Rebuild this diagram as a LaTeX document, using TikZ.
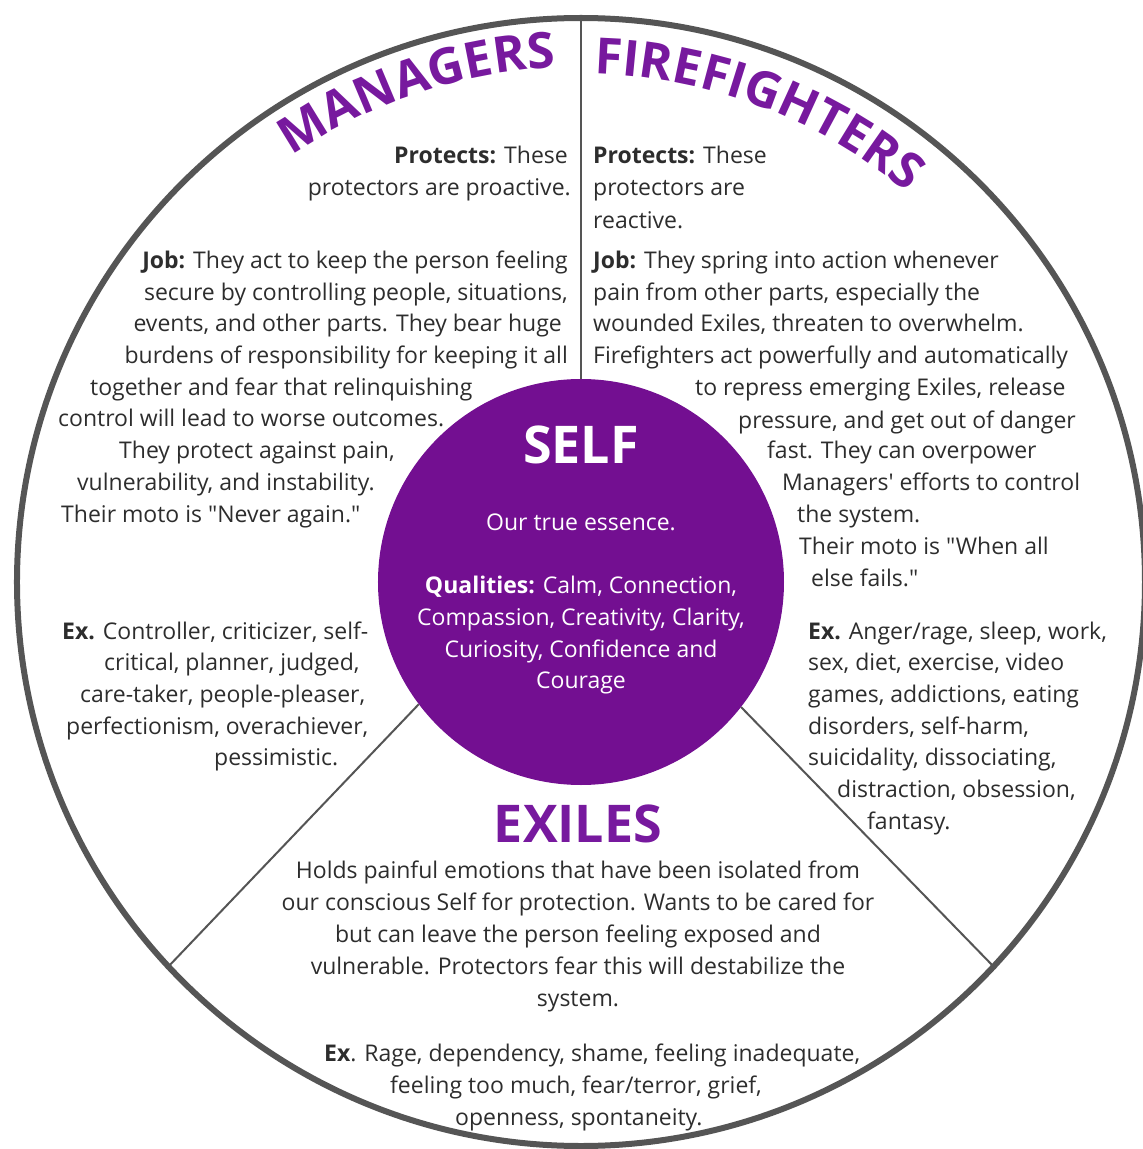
\documentclass[tikz,border=0pt]{standalone}
\usepackage{fontspec}
\setmainfont{Open Sans}[Ligatures=TeXOff]
\usetikzlibrary{decorations.text}

\definecolor{selfpurple}{RGB}{115,15,145}
\definecolor{titlepurple}{RGB}{119,25,158}
\definecolor{rimgray}{RGB}{85,85,85}
\definecolor{inktext}{RGB}{45,45,45}

\tikzset{
  rim/.style={circle, draw=rimgray, line width=6pt, minimum size=1128pt, inner sep=0pt},
  core/.style={circle, fill=selfpurple, minimum size=406pt, inner sep=0pt},
  divider/.style={draw=rimgray, line width=2pt},
  body/.style={inner sep=0pt, text=inktext, font=\fontsize{23}{31}\selectfont},
  bodyL/.style={body, anchor=mid west},
  bodyR/.style={body, anchor=mid east},
  bodyC/.style={body, anchor=mid},
  selftext/.style={body, text=white, anchor=mid},
  heading/.style={inner sep=0pt, anchor=base, font=\fontsize{52}{60}\selectfont\bfseries},
}

\begin{document}
\begin{tikzpicture}[x=1pt, y=1pt]
        \useasboundingbox (-581,-567) rectangle (562,582);

        % the two circles
        \node[rim]  (rim)  at (0,0) {};
        \node[core] (self) at (0,0) {};

        % dividers
        \draw[divider] (rim.90)    -- (self.90);
        \draw[divider] (self.217)  -- (rim.223);
        \draw[divider] (self.322)  -- (rim.317);

        % curved titles
        \path[decorate, decoration={text along path, text align=center,
                text={|\fontsize{50}{60}\selectfont\bfseries\color{titlepurple}|MANAGERS}}]
                (138.5:515pt) arc[start angle=138.5, end angle=78.5, radius=515pt];
        \path[decorate, decoration={text along path, text align=center,
                text={|\fontsize{50}{60}\selectfont\bfseries\color{titlepurple}|FIREFIGHTERS}}]
                (99.3:508pt) arc[start angle=99.3, end angle=39.3, radius=508pt];

        % self
        \node[heading, text=white] (selftitle) at (0,119) {SELF};
        \foreach \y/\t [count=\i] in {54/{Our true essence.},
                    -9/{\textbf{Qualities:} Calm, Connection,},
                    -41/{Compassion, Creativity, Clarity,},
                    -73/{Curiosity, Confidence and},
                    -104/{Courage}}
            \node[selftext] (selfline\i) at (0,\y) {\t};

        % managers
        \foreach \x/\y/\t [count=\i] in {-13/421/{\textbf{Protects:} These},
                    -10/389/{protectors are proactive.},
                    -13/316/{\textbf{Job:} They act to keep the person feeling},
                    -13/284/{secure by controlling people, situations,},
                    -19/253/{events, and other parts. They bear huge},
                    -13/221/{burdens of responsibility for keeping it all}}
            \node[bodyR] (mgr\i) at (\x,\y) {\t};
        \foreach \x/\y/\t [count=\i] in {-491/189/{together and fear that relinquishing},
                    -523/158/{control will lead to worse outcomes.},
                    -462/126/{They protect against pain,},
                    -504/94/{vulnerability, and instability.},
                    -520/62/{Their moto is "Never again."},
                    -519/-55/{\textbf{Ex.} Controller, criticizer, self-},
                    -477/-86/{critical, planner, judged,},
                    -501/-118/{care-taker, people-pleaser,},
                    -515/-150/{perfectionism, overachiever,},
                    -367/-181/{pessimistic.}}
            \node[bodyL] (mgrL\i) at (\x,\y) {\t};

        % firefighters
        \foreach \x/\y/\t [count=\i] in {12/421/{\textbf{Protects:} These},
                    12/389/{protectors are},
                    12/356/{reactive.},
                    12/316/{\textbf{Job:} They spring into action whenever},
                    12/284/{pain from other parts, especially the},
                    12/253/{wounded Exiles, threaten to overwhelm.},
                    12/221/{Firefighters act powerfully and automatically},
                    114/189/{to repress emerging Exiles, release},
                    157/156/{pressure, and get out of danger},
                    186/126/{fast. They can overpower},
                    201/94/{Managers' efforts to control},
                    216/62/{the system.},
                    218/30/{Their moto is "When all},
                    230/-2/{else fails."},
                    227/-55/{\textbf{Ex.} Anger/rage, sleep, work,},
                    227/-86/{sex, diet, exercise, video},
                    227/-118/{games, addictions, eating},
                    227/-150/{disorders, self-harm,},
                    227/-181/{suicidality, dissociating,},
                    256/-213/{distraction, obsession,},
                    286/-245/{fantasy.}}
            \node[bodyL] (ff\i) at (\x,\y) {\t};

        % exiles
        \node[heading, text=titlepurple] (exiles) at (-3,-260) {EXILES};
        \foreach \y/\t [count=\i] in {-294/{Holds painful emotions that have been isolated from},
                    -326/{our conscious Self for protection. Wants to be cared for},
                    -358/{but can leave the person feeling exposed and},
                    -390/{vulnerable. Protectors fear this will destabilize the},
                    -422/{system.}}
            \node[bodyC] (ex\i) at (-3,\y) {\t};
        \foreach \x/\y/\t [count=\i] in {-257/-477/{\textbf{Ex}. Rage, dependency, shame, feeling inadequate,},
                    -191/-509/{feeling too much, fear/terror, grief,},
                    -126/-541/{openness, spontaneity.}}
            \node[bodyL] (exL\i) at (\x,\y) {\t};
\end{tikzpicture}
\end{document}
